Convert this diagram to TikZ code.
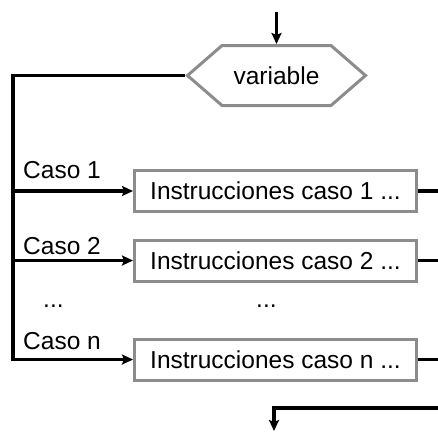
\documentclass[tikz,border=0pt]{standalone}
\usepackage{fontspec}
\setmainfont{Liberation Sans}
\usetikzlibrary{arrows.meta,shapes.symbols}

\begin{document}
\begin{tikzpicture}[x=1pt, y=-1pt, >={Stealth[length=11pt,width=10pt,inset=2pt]},
    condbox/.style={signal, signal to=west and east, signal pointer angle=82, draw=black!45, line width=3pt, fill=white, minimum width=178pt, minimum height=60pt, inner sep=0pt, font=\fontsize{24.5}{29}\selectfont},
    instbox/.style={rectangle, draw=black!45, line width=3pt, fill=white, minimum width=282pt, minimum height=41pt, inner sep=0pt, font=\fontsize{24.5}{29}\selectfont},
    casolabel/.style={anchor=west, inner sep=0pt, font=\fontsize{24.5}{29}\selectfont},
    conn/.style={draw=black, line width=3.2pt}]
    \useasboundingbox (0,0) rectangle (438,432);

    \node[condbox] (VAR) at (276.5,75.5) {variable};

    \node[instbox] (I1) at (275.5,191) {Instrucciones caso 1 ...};
    \node[instbox] (I2) at (275.5,260.5) {Instrucciones caso 2 ...};
    \node[instbox] (IN) at (275.5,359.5) {Instrucciones caso n ...};

    \node[casolabel] (C1) at (23,170.5) {Caso 1};
    \node[casolabel] (C2) at (23,246) {Caso 2};
    \node[casolabel] (CN) at (23,341) {Caso n};
    \node[casolabel] (D1) at (43,306) {...};
    \node[casolabel] (D2) at (256,306) {...};

    \coordinate (TOP) at (276.5,12);
    \coordinate (LEFT) at (13,75.5);
    \coordinate (RIGHT) at (438,408);
    \coordinate (BOT) at (274,431);

    \draw[->, conn] (TOP) -- (VAR.north);
    \draw[->, conn] (VAR.west) -- (LEFT) |- (IN.west);
    \draw[->, conn] (LEFT |- I1.west) -- (I1.west);
    \draw[->, conn] (LEFT |- I2.west) -- (I2.west);
    \draw[conn] (I1.east) -- (I1.east -| RIGHT);
    \draw[conn] (I2.east) -- (I2.east -| RIGHT);
    \draw[conn] (IN.east) -- (IN.east -| RIGHT);
    \draw[->, conn, line width=4.5pt] (RIGHT) -| (BOT);
\end{tikzpicture}
\end{document}
